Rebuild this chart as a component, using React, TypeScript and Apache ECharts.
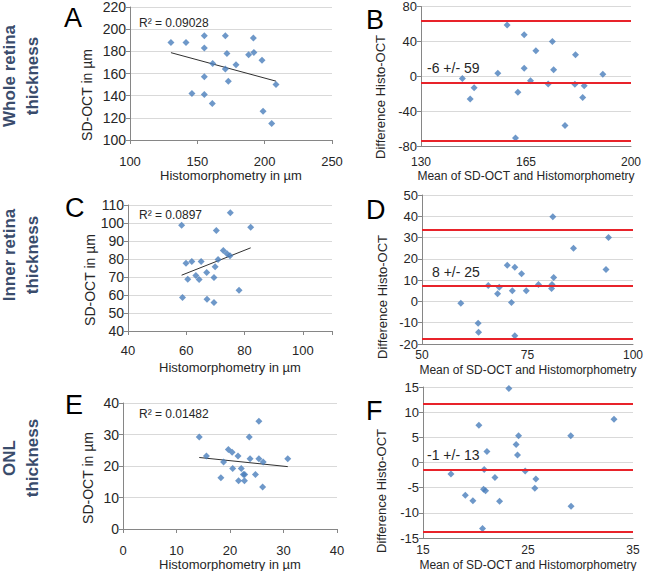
import React, { useEffect, useRef } from "react";
import * as echarts from "echarts";

// ---------- data ----------
// Panel A: whole retina, correlation
const histoA = [130.4, 141.6, 155.2, 170.8, 191.6, 155.2, 172, 192, 188.1, 161.4, 178.7, 198, 170.8, 155.2, 173, 208.4, 146, 155.2, 161.1, 198.8, 205.2];
const octA = [188, 188, 194, 194, 192, 183, 178, 179, 177, 169, 168, 172, 164, 157, 153, 150, 142, 141, 133, 126, 115];
const trendA = [[130.4, 178.8], [208.4, 153.1]];
// Panel B: whole retina, Bland-Altman
const meanB = [158.7, 164.4, 173.8, 168.3, 181.5, 164.4, 174.2, 155.6, 190.6, 143.8, 166.5, 172.4, 181.3, 184.4, 147.7, 162.3, 146.4, 183.9, 178, 161.5];
const diffB = [58.7, 47.5, 40, 29.2, 24.7, 9.3, 7.5, 3.4, 2.2, -2.6, -5.2, -9, -9.3, -10.8, -13.1, -18.3, -26.2, -24.3, -56.4, -70.7];
const limitsB = [64, -8, -74];
// Panel C: inner retina, correlation
const histoC = [75.1, 58.4, 70.3, 82.1, 72.7, 74.0, 75.0, 70.9, 59.9, 61.9, 65.1, 69.9, 67.0, 63.3, 69.5, 60.5, 64.4, 78.1, 58.7, 67.1, 69.5];
const octC = [105.7, 98.7, 95.9, 97.7, 84.7, 82.9, 81.8, 79.7, 77.7, 78.6, 78.6, 75.7, 72.5, 70.8, 69.7, 68.8, 68.6, 62.7, 58.6, 57.6, 55.8];
const trendC = [[58.4, 71.0], [82.1, 86.2]];
// Panel D: inner retina, Bland-Altman
const meanD = [81, 94.2, 85.9, 70.2, 72, 73.6, 93.6, 81.2, 65.7, 68.3, 77.6, 80.8, 80.7, 71.4, 74.7, 67.9, 59.2, 71.2, 63.3, 63.4, 72];
const diffD = [39.8, 30, 25, 17, 16.1, 13, 15, 11.3, 7.5, 6.7, 8, 8, 6.1, 5, 5, 3.6, -0.8, -0.5, -10.2, -14.5, -16.1];
const limitsD = [33.5, 7.5, -17.5];
// Panel E: ONL, correlation
const histoE = [14.25, 23.6, 25.4, 15.6, 19.7, 20.4, 21.5, 18.8, 23.75, 25.4, 26.2, 30.8, 20.5, 22.1, 22.5, 22.75, 24.75, 18.3, 21.6, 22.7, 26.1];
const octE = [29.2, 29.2, 34.2, 23.2, 25.2, 24.4, 23.2, 21.3, 22.3, 22.3, 21.3, 22.3, 19.2, 19.2, 17.3, 17.3, 17.3, 16.3, 15.3, 15.3, 13.3];
const trendE = [[14.25, 22.7], [30.8, 19.8]];
// Panel F: ONL, Bland-Altman
const meanF = [23.18, 33.19, 20.32, 24.1, 29.07, 23.87, 21.09, 24.0, 20.83, 24.73, 17.66, 21.85, 25.75, 20.77, 20.96, 25.65, 19.03, 19.75, 22.29, 29.1, 20.67];
const diffF = [14.7, 8.6, 7.4, 5.3, 5.3, 3.6, 2.2, 1.5, -1.4, -1.7, -2.3, -3, -3.3, -5.3, -5.6, -5.1, -6.5, -7.6, -7.7, -8.7, -13.1];
const limitsF = [11.75, -1.4, -13.7];

const panelLetters = ["A", "B", "C", "D", "E", "F"];
const rowLabels = ["Whole retina\nthickness", "Inner retina\nthickness", "ONL\nthickness"];
const r2Labels = ["R\u00B2 = 0.09028", "R\u00B2 = 0.0897", "R\u00B2 = 0.01482"];
const baLabels = ["-6 +/- 59", "8 +/- 25", "-1 +/- 13"];
const corrXTitle = "Histomorphometry in \u00B5m";
const corrYTitle = "SD-OCT in \u00B5m";
const baXTitle = "Mean of SD-OCT and Histomorphometry";
const baYTitle = "Difference Histo-OCT";

const FONT = "'Liberation Sans', Arial, sans-serif";
const BLUE = "#4a7ebb";
const RED = "#e8232a";
const AXIS = "#868686";
const GRID = "#d9d9d9";
const TXT = "#262626";

const zip = (a: number[], b: number[]) => a.map((v, i) => [v, b[i]]);

function xAx(gi: number, min: number, max: number, interval: number, fontSize: number, margin: number, show: (v: number) => boolean, ticks: boolean) {
  return {
    type: "value", gridIndex: gi, min, max, interval,
    axisLine: { show: true, onZero: false, lineStyle: { color: AXIS } },
    axisTick: { show: ticks, length: 4, inside: false, lineStyle: { color: AXIS } },
    splitLine: { show: false },
    axisLabel: { fontSize, color: TXT, margin, fontFamily: FONT, formatter: (v: number) => (show(v) ? String(v) : "") },
  };
}
function yAx(gi: number, min: number, max: number, interval: number, fontSize: number) {
  return {
    type: "value", gridIndex: gi, min, max, interval,
    axisLine: { show: true, onZero: false, lineStyle: { color: AXIS } },
    axisTick: { show: true, length: 4, lineStyle: { color: AXIS } },
    splitLine: { show: true, lineStyle: { color: GRID, width: 1 } },
    axisLabel: { fontSize, color: TXT, margin: 4, fontFamily: FONT },
  };
}

export default function App() {
  const ref = useRef<HTMLDivElement>(null);
  useEffect(() => {
    document.body.style.margin = "0";
    const chart = echarts.init(ref.current!, null, { renderer: "svg" });

    const grids = [
      { left: 130, top: 6, width: 202, height: 134 },
      { left: 421, top: 3, width: 210, height: 143 },
      { left: 128, top: 205, width: 204, height: 126 },
      { left: 422, top: 195, width: 211, height: 149 },
      { left: 123, top: 403, width: 214, height: 126 },
      { left: 423, top: 387, width: 210, height: 151 },
    ];

    const scatter = (i: number, data: number[][]) => ({
      type: "scatter", xAxisIndex: i, yAxisIndex: i, data,
      symbol: "diamond", symbolSize: 7, itemStyle: { color: BLUE }, z: 3,
    });
    const trend = (i: number, data: number[][]) => ({
      type: "line", xAxisIndex: i, yAxisIndex: i, data, showSymbol: false, symbol: "none",
      lineStyle: { color: "#303030", width: 1 }, z: 2, silent: true,
    });
    const limits = (i: number, vals: number[]) => ({
      type: "line", xAxisIndex: i, yAxisIndex: i, data: [], silent: true,
      markLine: {
        silent: true, symbol: ["none", "none"], label: { show: false },
        lineStyle: { color: RED, width: 2, type: "solid" },
        data: vals.map((v) => ({ yAxis: v })),
      },
      z: 1,
    });

    const text = (x: number, y: number, s: string, size: number, opts: any = {}) => ({
      type: "text", x, y, rotation: opts.rotation || 0, z: 10,
      style: {
        text: s, fontSize: size, fontFamily: FONT, fill: opts.fill || TXT,
        fontWeight: opts.bold ? "bold" : "normal",
        align: opts.align || "left", verticalAlign: opts.va || "middle",
        lineHeight: opts.lineHeight,
      },
    });

    const letterPos = [[64, 18], [366, 20], [65, 208], [366, 210], [65, 405], [366, 411]];
    const corrCenters = [[231, 175, 87, 95], [230, 367, 90, 280], [230, 564, 88, 478]];
    const baCenters = [[526, 176, 380, 97], [528, 370, 382, 297], [528, 565, 381, 491]];
    const r2Pos = [[139, 23], [139, 215], [139, 414]];
    const baPos = [[427, 68], [432, 272], [427, 455]];
    const rowPos = [[21, 76], [21, 255], [21, 458]];

    const graphics: any[] = [];
    panelLetters.forEach((l, i) => graphics.push(text(letterPos[i][0], letterPos[i][1], l, 27, { fill: "#000" })));
    corrCenters.forEach((c) => {
      graphics.push(text(c[0], c[1], corrXTitle, 13, { align: "center" }));
      graphics.push(text(c[2], c[3], corrYTitle, 14, { align: "center", rotation: Math.PI / 2 }));
    });
    baCenters.forEach((c) => {
      graphics.push(text(c[0], c[1], baXTitle, 12, { align: "center" }));
      graphics.push(text(c[2], c[3], baYTitle, 13, { align: "center", rotation: Math.PI / 2 }));
    });
    r2Labels.forEach((s, i) => graphics.push(text(r2Pos[i][0], r2Pos[i][1], s, 12)));
    baLabels.forEach((s, i) => graphics.push(text(baPos[i][0], baPos[i][1], s, 14)));
    rowLabels.forEach((s, i) =>
      graphics.push(text(rowPos[i][0], rowPos[i][1], s, 17, { align: "center", bold: true, fill: "#3a4c6c", rotation: Math.PI / 2, lineHeight: 23 }))
    );

    chart.setOption({
      animation: false,
      backgroundColor: "#ffffff",
      grid: grids,
      xAxis: [
        xAx(0, 100, 250, 50, 13, 15, () => true, true),
        xAx(1, 130, 200, 5, 12, 10, (v) => (v - 130) % 35 === 0, false),
        xAx(2, 40, 110, 20, 13, 13, (v) => v <= 100, true),
        xAx(3, 50, 100, 25, 12, 5, () => true, false),
        xAx(4, 0, 40, 10, 13, 15, () => true, true),
        xAx(5, 15, 35, 5, 12, 6, (v) => (v - 15) % 10 === 0, false),
      ],
      yAxis: [
        yAx(0, 100, 220, 20, 14),
        yAx(1, -80, 80, 40, 13),
        yAx(2, 40, 110, 10, 14),
        yAx(3, -20, 50, 10, 13),
        yAx(4, 0, 40, 10, 14),
        yAx(5, -15, 15, 5, 13),
      ],
      series: [
        trend(0, trendA), scatter(0, zip(histoA, octA)),
        limits(1, limitsB), scatter(1, zip(meanB, diffB)),
        trend(2, trendC), scatter(2, zip(histoC, octC)),
        limits(3, limitsD), scatter(3, zip(meanD, diffD)),
        trend(4, trendE), scatter(4, zip(histoE, octE)),
        limits(5, limitsF), scatter(5, zip(meanF, diffF)),
      ],
      graphic: graphics,
    });
    return () => chart.dispose();
  }, []);
  return <div ref={ref} style={{ width: 651, height: 571 }} />;
}
